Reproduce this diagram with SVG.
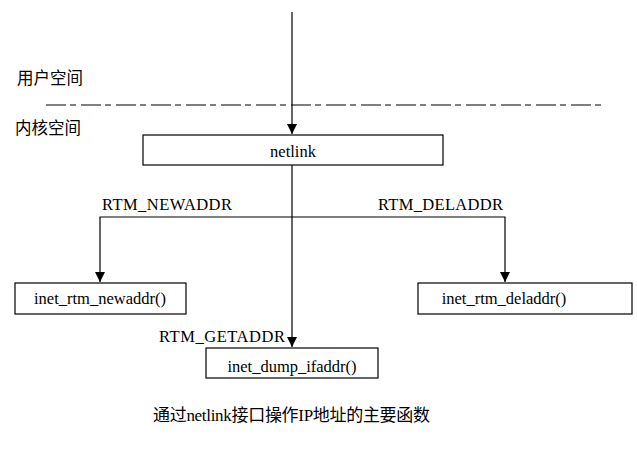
<svg xmlns="http://www.w3.org/2000/svg" width="637" height="454" viewBox="0 0 637 454">
<style>
text{font-family:"Liberation Serif","Noto Sans CJK SC",serif;font-size:16.5px;fill:#000}
.c{text-anchor:middle}
.box{fill:#fff;stroke:#000;stroke-width:1.2}
.ln{fill:none;stroke:#000;stroke-width:1.2}
.cap{font-size:17px}
</style>
<defs>
<marker id="ah" viewBox="0 0 10 12" refX="10" refY="5" markerWidth="10" markerHeight="12" markerUnits="userSpaceOnUse" orient="auto">
<path d="M0,0 L12,5 L0,10 Z" transform="scale(0.833,1)" fill="#000"/>
</marker>
</defs>
<rect width="637" height="454" fill="#fff"/>
<text x="17" y="84">用户空间</text>
<text x="15" y="134">内核空间</text>
<line x1="46" y1="105" x2="602" y2="105" stroke="#000" stroke-width="1.2" stroke-dasharray="20 4 6 5"/>
<g id="connectors">
<path class="ln" d="M292,12 V134" marker-end="url(#ah)"/>
<path class="ln" d="M292,165 V347" marker-end="url(#ah)"/>
<path class="ln" d="M292,217 H100 V282" marker-end="url(#ah)"/>
<path class="ln" d="M292,217 H505 V282" marker-end="url(#ah)"/>
<text x="102" y="210" textLength="130">RTM_NEWADDR</text>
<text x="378" y="210" textLength="125">RTM_DELADDR</text>
<text x="159" y="342" textLength="126">RTM_GETADDR</text>
</g>
<g id="netlink">
<rect class="box" x="143" y="135" width="300" height="30"/>
<text class="c" x="293" y="157">netlink</text>
</g>
<g id="newaddr">
<rect class="box" x="15" y="283" width="171" height="31"/>
<text class="c" x="100" y="304">inet_rtm_newaddr()</text>
</g>
<g id="deladdr">
<rect class="box" x="418" y="283" width="214" height="31"/>
<text class="c" x="504" y="304">inet_rtm_deladdr()</text>
</g>
<g id="dump">
<rect class="box" x="206" y="348" width="172" height="30"/>
<text class="c" x="292" y="372">inet_dump_ifaddr()</text>
</g>
<text x="153" y="421" class="cap" textLength="277">通过netlink接口操作IP地址的主要函数</text>
</svg>
